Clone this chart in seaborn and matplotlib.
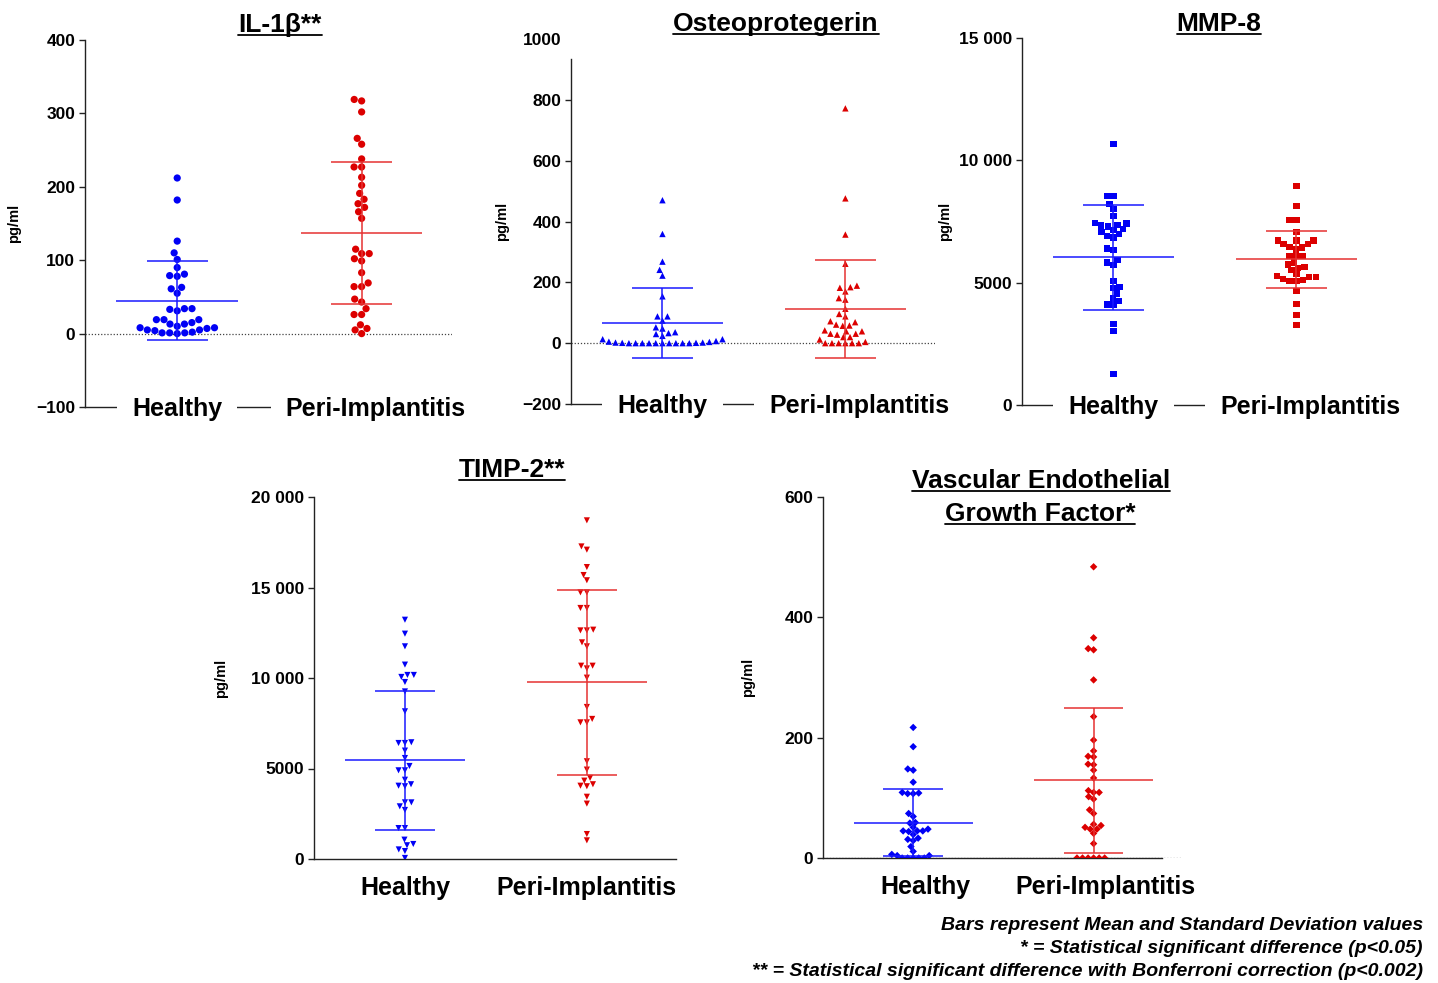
import matplotlib
matplotlib.use("Agg")
import matplotlib.pyplot as plt
import seaborn as sns
import pandas as pd
from matplotlib.lines import Line2D
from matplotlib.transforms import ScaledTranslation

grupos = ["Healthy", "Peri-Implantitis"]
cores = {"Healthy": "#0000f5", "Peri-Implantitis": "#dc0000"}
cores_linha = ["#1a1aff", "#e53232"]

# IL-1b (pg/ml)
il1b_healthy = [212, 182, 126, 110, 101, 90, 81, 78, 79, 63, 61, 55, 34, 31, 33, 34, 19, 15, 13, 10,
                13, 19, 19, 8, 7, 5, 2, 1, 0, 1, 1, 4, 5, 8]
il1b_peri = [319, 317, 302, 266, 258, 238, 227, 227, 213, 202, 191, 183, 177, 172, 166, 157, 115, 109,
             109, 102, 99, 83, 69, 64, 64, 47, 43, 34, 26, 26, 12, 7, 5, 0]
il1b_media = [45, 137]
il1b_dp = [53.5, 97]

# Osteoprotegerin
opg_healthy = [470, 359, 268, 241, 222, 154, 88, 88, 74, 52, 48, 36, 30, 33, 24,
               13, 7, 4, 2, 1, 0, 0, 0, 0, 0, 0, 0, 0, 0, 0, 1, 2, 5, 13]
opg_peri = [772, 476, 357, 261, 189, 184, 182, 170, 148, 143, 113, 96, 88, 72, 69, 61, 58, 57,
            42, 39, 39, 31, 28, 31, 20, 20, 12, 4, 0, 0, 0, 0, 0, 0]
opg_media = [66, 112]
opg_dp = [116, 160]

# MMP-8
mmp8_healthy = [10680, 8540, 8540, 8210, 8000, 7720, 7450, 7420, 7360, 7330, 7290, 7190, 7150, 7060,
                6980, 6910, 6850, 6400, 6340, 5930, 5820, 5720, 5070, 4820, 4770, 4560, 4350, 4250,
                4110, 4090, 3310, 3030, 1270]
mmp8_peri = [8950, 8130, 7550, 7550, 7060, 6720, 6720, 6570, 6470, 6430, 6360, 6570, 6720, 6100, 6100,
             6100, 5830, 5750, 5610, 5530, 5650, 5260, 5220, 5110, 5070, 5070, 5140, 5220, 5350, 4660,
             4130, 3670, 3270]
mmp8_media = [6030, 5950]
mmp8_dp = [2150, 1180]

# TIMP-2
timp2_healthy = [13220, 12450, 11750, 10740, 10060, 10170, 10170, 9780, 9260, 8160, 6450, 6410, 6410,
                 5990, 5580, 5140, 4900, 4900, 4380, 4130, 4020, 4050, 3130, 3130, 2910, 2710, 1710,
                 1710, 1070, 760, 830, 530, 440, 60]
timp2_peri = [18710, 17270, 17090, 16130, 15690, 15400, 14730, 14730, 13870, 13870, 12630, 12630, 12670,
              11970, 11750, 10680, 10530, 10680, 10020, 8400, 7740, 7550, 7550, 5400, 4940, 4480, 4330,
              4130, 4020, 4050, 3440, 3060, 1380, 1030]
timp2_media = [5450, 9760]
timp2_dp = [3840, 5120]

# VEGF
vegf_healthy = [217, 185, 148, 146, 126, 109, 107, 107, 108, 74, 69, 59, 58, 51, 48, 45, 45, 45, 44,
                39, 33, 31, 29, 19, 11, 6, 4, 4, 0, 0, 0, 0, 0]
vegf_peri = [484, 366, 346, 348, 296, 235, 196, 178, 169, 168, 156, 155, 146, 133, 112, 109, 109, 102,
             98, 80, 74, 56, 54, 51, 48, 48, 41, 24, 0, 0, 0, 0, 0, 0]
vegf_media = [59, 129]
vegf_dp = [56, 121]

sns.set_style("ticks")
plt.rcParams["font.family"] = ["Liberation Sans", "DejaVu Sans"]
plt.rcParams["font.weight"] = "bold"
for k in ["text.color", "axes.labelcolor", "xtick.color", "ytick.color"]:
    plt.rcParams[k] = "black"

W, H = 1438, 983
fig = plt.figure(figsize=(W / 100, H / 100), dpi=100)


def painel(rect_px, healthy, peri, media, dp, marcador, tam, ylim, yticks, ylabels, ylab_dx):
    x0, y0, x1, y1 = rect_px
    ax = fig.add_axes([x0 / W, 1 - y1 / H, (x1 - x0) / W, (y1 - y0) / H])
    df = pd.DataFrame({"grupo": ["Healthy"] * len(healthy) + ["Peri-Implantitis"] * len(peri),
                       "valor": healthy + peri})
    sns.swarmplot(data=df, x="grupo", y="valor", hue="grupo", palette=cores, order=grupos,
                  marker=marcador, size=tam, linewidth=0, legend=False, ax=ax, zorder=3)
    for i in range(2):
        c = cores_linha[i]
        ax.hlines(media[i], i - 0.33, i + 0.33, color=c, lw=1.1, zorder=4)
        ax.hlines([media[i] - dp[i], media[i] + dp[i]], i - 0.165, i + 0.165, color=c, lw=1.1, zorder=4)
        ax.vlines(i, media[i] - dp[i], media[i] + dp[i], color=c, lw=1.1, zorder=4)
    ax.set_xlim(-0.5, 1.49)
    ax.set_ylim(ylim)
    ax.set_yticks(yticks)
    ax.set_yticklabels(ylabels)
    ax.set_xlabel("")
    ax.set_ylabel("pg/ml", fontsize=10.5, fontweight="bold")
    ax.yaxis.set_label_coords(-ylab_dx / (x1 - x0), 0.5)
    sns.despine(ax=ax)
    for s in ["left", "bottom"]:
        ax.spines[s].set_color("#222222")
        ax.spines[s].set_linewidth(1.0)
        ax.spines[s].set_zorder(1)
    ax.xaxis.set_zorder(2)
    ax.tick_params(axis="y", length=4, width=1, color="#222222", labelsize=12.5, pad=3)
    return ax


def labels_sobre_eixo(ax):
    ax.tick_params(axis="x", length=0, pad=1.5, labelsize=18)
    for lab in ax.get_xticklabels():
        lab.set_va("center")
        lab.set_bbox(dict(facecolor="white", edgecolor="none", boxstyle="square,pad=0.6"))
    lab = ax.get_xticklabels()[1]
    lab.set_transform(lab.get_transform() + ScaledTranslation(0.14, 0, fig.dpi_scale_trans))


def linha_zero(ax, x_fim=1.49):
    ax.hlines(0, -0.5, x_fim, color="#444444", lw=0.9, linestyles=(0, (1, 1.5)), zorder=1)


ax1 = painel((85, 40, 452, 407), il1b_healthy, il1b_peri, il1b_media, il1b_dp, "o", 5.2,
             (-100, 400), [-100, 0, 100, 200, 300, 400], ["\u2212100", "0", "100", "200", "300", "400"], 64)
linha_zero(ax1)
labels_sobre_eixo(ax1)

ax2 = painel((571, 39, 935, 404), opg_healthy, opg_peri, opg_media, opg_dp, "^", 4.6,
             (-200, 1000), [-200, 0, 200, 400, 600, 800, 1000],
             ["\u2212200", "0", "200", "400", "600", "800", "1000"], 62)
ax2.spines["left"].set_bounds(-200, 935)
ax2.yaxis.get_major_ticks()[-1].tick1line.set_visible(False)
linha_zero(ax2)
labels_sobre_eixo(ax2)

ax3 = painel((1022, 38, 1386, 405), mmp8_healthy, mmp8_peri, mmp8_media, mmp8_dp, "s", 4.6,
             (0, 15000), [0, 5000, 10000, 15000], ["0", "5000", "10 000", "15 000"], 70)
labels_sobre_eixo(ax3)

ax4 = painel((314, 497, 676, 859), timp2_healthy, timp2_peri, timp2_media, timp2_dp, "v", 4.4,
             (0, 20000), [0, 5000, 10000, 15000, 20000], ["0", "5000", "10 000", "15 000", "20 000"], 86)
ax4.tick_params(axis="x", length=0, pad=12, labelsize=18)

ax5 = painel((823, 497, 1182, 858), vegf_healthy, vegf_peri, vegf_media, vegf_dp, "D", 3.8,
             (0, 600), [0, 200, 400, 600], ["0", "200", "400", "600"], 68)
ax5.spines["bottom"].set_bounds(-0.5, 1.38)
linha_zero(ax5)
ax5.tick_params(axis="x", length=0, pad=12, labelsize=18)
for lab in ax5.get_xticklabels():
    lab.set_transform(lab.get_transform() + ScaledTranslation(0.12, 0, fig.dpi_scale_trans))

# titulos sublinhados (x centro, linha de base em px)
titulos = [("IL-1\u03b2**", 280, 32), ("Osteoprotegerin", 776, 31), ("MMP-8", 1219, 31),
           ("TIMP-2**", 512, 477), ("Vascular Endothelial", 1041, 488), ("Growth Factor*", 1040, 521)]
textos = []
for txt, xp, yp in titulos:
    t = fig.text(xp / W, 1 - yp / H, txt, ha="center", va="baseline", fontsize=19, fontweight="bold")
    textos.append((t, yp))

fig.canvas.draw()
r = fig.canvas.get_renderer()
for t, yp in textos:
    bb = t.get_window_extent(r)
    yl = 1 - (yp + 2.5) / H
    fig.add_artist(Line2D([bb.x0 / W, bb.x1 / W], [yl, yl], transform=fig.transFigure,
                          color="black", lw=1.3))

notas = ["Bars represent Mean and Standard Deviation values",
         "* = Statistical significant difference (p<0.05)",
         "** = Statistical significant difference with Bonferroni correction (p<0.002)"]
for i, n in enumerate(notas):
    fig.text(1423 / W, 1 - (925 + 23.5 * i) / H, n, ha="right", va="center", fontsize=14,
             fontweight="bold", fontstyle="italic")

fig.savefig("out.png", dpi=100)
